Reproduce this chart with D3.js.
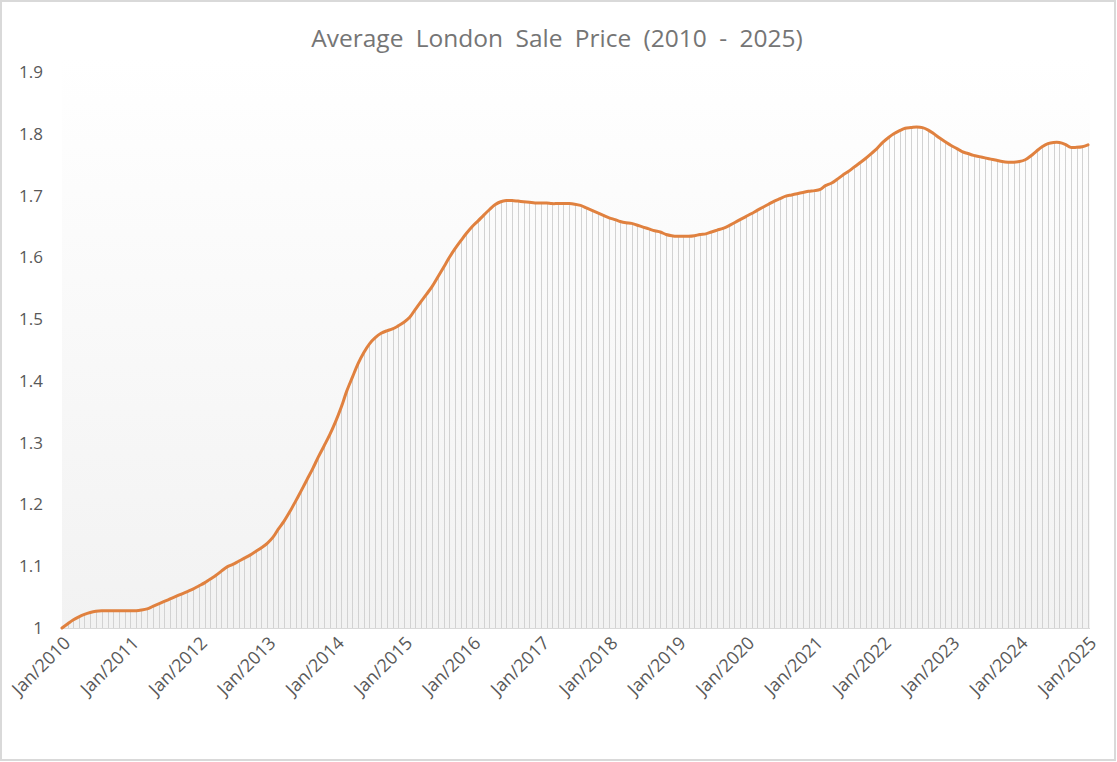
<!DOCTYPE html>
<html>
<head>
<meta charset="utf-8">
<script src="https://cdn.jsdelivr.net/npm/d3@7"></script>
<style>
  body { margin: 0; background: #fff; }
  svg { display: block; }
</style>
</head>
<body>
<svg id="chart" width="1117" height="762"></svg>
<script>

//////////////////////////////  data  //////
// monthly index, Jan 2010 = 1
var startYear = 2010;
var endYear = 2025;

var values_2010 = [1.000, 1.007, 1.013, 1.018, 1.022, 1.025, 1.027, 1.028, 1.028, 1.028, 1.028, 1.028];
var values_2011 = [1.028, 1.028, 1.029, 1.031, 1.035, 1.039, 1.043, 1.047, 1.051, 1.055, 1.059, 1.063];
var values_2012 = [1.068, 1.073, 1.079, 1.085, 1.092, 1.099, 1.103, 1.108, 1.113, 1.118, 1.124, 1.130];
var values_2013 = [1.137, 1.147, 1.160, 1.173, 1.188, 1.205, 1.222, 1.240, 1.258, 1.277, 1.295, 1.313];
var values_2014 = [1.334, 1.358, 1.383, 1.406, 1.428, 1.446, 1.460, 1.470, 1.477, 1.481, 1.484, 1.489];
var values_2015 = [1.495, 1.503, 1.515, 1.528, 1.540, 1.553, 1.568, 1.584, 1.600, 1.614, 1.627, 1.639];
var values_2016 = [1.650, 1.659, 1.668, 1.677, 1.685, 1.690, 1.692, 1.692, 1.691, 1.690, 1.689, 1.688];
var values_2017 = [1.688, 1.688, 1.687, 1.687, 1.687, 1.687, 1.686, 1.684, 1.680, 1.676, 1.672, 1.668];
var values_2018 = [1.664, 1.661, 1.658, 1.656, 1.655, 1.652, 1.649, 1.646, 1.643, 1.641, 1.637, 1.635];
var values_2019 = [1.634, 1.634, 1.634, 1.635, 1.637, 1.638, 1.641, 1.644, 1.647, 1.651, 1.656, 1.661];
var values_2020 = [1.666, 1.671, 1.676, 1.681, 1.686, 1.691, 1.695, 1.699, 1.701, 1.703, 1.705, 1.707];
var values_2021 = [1.708, 1.710, 1.716, 1.720, 1.726, 1.733, 1.739, 1.746, 1.753, 1.760, 1.768, 1.776];
var values_2022 = [1.786, 1.794, 1.800, 1.805, 1.809, 1.810, 1.811, 1.810, 1.806, 1.800, 1.793, 1.787];
var values_2023 = [1.781, 1.776, 1.771, 1.768, 1.765, 1.763, 1.761, 1.759, 1.757, 1.755, 1.754, 1.754];
var values_2024 = [1.755, 1.758, 1.764, 1.772, 1.779, 1.784, 1.786, 1.786, 1.783, 1.778, 1.778, 1.779];
var values_2025 = [1.782];

var yTicks = [1, 1.1, 1.2, 1.3, 1.4, 1.5, 1.6, 1.7, 1.8, 1.9];
var xTickYears = d3.range(startYear, endYear + 1);

var chartTitle = "Average London Sale Price (2010 - 2025)";


var allValues = [].concat(values_2010, values_2011, values_2012, values_2013, values_2014,
  values_2015, values_2016, values_2017, values_2018, values_2019, values_2020,
  values_2021, values_2022, values_2023, values_2024, values_2025);

var data = allValues.map(function(v, i) {
  return { date: new Date(startYear, i, 1), value: v };
});


//////////////////////////////  chart  //////

var chart_vars = {
  'padding_left': 62,
  'padding_top': 72,
  'width': 1026,
  'height': 556,
  'line_color': '#e0813f',
  'text_color': '#595959'
};

var svg = d3.select("svg#chart");

// outer frame
svg.append("rect")
  .attr("x", 1).attr("y", 1)
  .attr("width", 1114).attr("height", 759)
  .attr("fill", "#fff")
  .attr("stroke", "#d9d9d9")
  .attr("stroke-width", 2);

var defs = svg.append("defs");
var grad = defs.append("linearGradient")
  .attr("id", "plotGrad")
  .attr("x1", 0).attr("y1", 0).attr("x2", 0).attr("y2", 1);
grad.append("stop").attr("offset", "0%").attr("stop-color", "#ffffff");
grad.append("stop").attr("offset", "100%").attr("stop-color", "#f2f2f2");

var g = svg.append("g")
  .attr("transform", "translate(" + chart_vars.padding_left + "," + chart_vars.padding_top + ")");

var xScale = d3.scaleTime()
  .domain([new Date(startYear, 0, 1), new Date(endYear, 0, 1)])
  .range([0, chart_vars.width]);

var yScale = d3.scaleLinear()
  .domain([1, 1.9])
  .range([chart_vars.height, 0]);

// plot area background
g.append("rect")
  .attr("x", 0)
  .attr("y", -14)
  .attr("width", chart_vars.width + 2)
  .attr("height", chart_vars.height + 14)
  .attr("fill", "url(#plotGrad)");

// drop lines
g.append("g").attr("class", "droplines")
  .selectAll("line")
  .data(data)
  .enter()
  .append("line")
  .attr("x1", function(d) { return Math.round(xScale(d.date)) + 0.5; })
  .attr("x2", function(d) { return Math.round(xScale(d.date)) + 0.5; })
  .attr("y1", function(d) { return yScale(d.value); })
  .attr("y2", yScale(1))
  .attr("stroke", "#d2d2d2")
  .attr("stroke-width", 1);

// baseline
g.append("line")
  .attr("x1", 0).attr("x2", chart_vars.width + 2)
  .attr("y1", yScale(1) + 0.5).attr("y2", yScale(1) + 0.5)
  .attr("stroke", "#d9d9d9")
  .attr("stroke-width", 1);

var line = d3.line()
  .x(function(d) { return xScale(d.date); })
  .y(function(d) { return yScale(d.value); })
  .curve(d3.curveCatmullRom.alpha(0.5));

g.append("path")
  .datum(data)
  .attr("d", line)
  .attr("fill", "none")
  .attr("stroke", chart_vars.line_color)
  .attr("stroke-width", 3)
  .attr("stroke-linejoin", "round")
  .attr("stroke-linecap", "round");

// y axis
var axis_left = d3.axisLeft(yScale)
  .tickValues(yTicks)
  .tickSize(0)
  .tickPadding(19)
  .tickFormat(function(d) { return d3.format("")(+d.toFixed(1)); });

var gy = g.append("g")
  .attr("class", "axis axis--y")
  .call(axis_left);
gy.select("path").remove();
gy.selectAll("text")
  .style("font-family", "'Open Sans', sans-serif")
  .style("font-size", "17px")
  .style("fill", chart_vars.text_color);

// x axis
var axis_bottom = d3.axisBottom(xScale)
  .tickValues(xTickYears.map(function(y) { return new Date(y, 0, 1); }))
  .tickSize(0)
  .tickFormat(d3.timeFormat("Jan/%Y"));

var gx = g.append("g")
  .attr("class", "axis axis--x")
  .attr("transform", "translate(0," + chart_vars.height + ")")
  .call(axis_bottom);
gx.select("path").remove();
gx.selectAll("text")
  .style("text-anchor", "end")
  .style("font-family", "'Open Sans', sans-serif")
  .style("font-size", "18px")
  .style("fill", chart_vars.text_color)
  .attr("dx", "0")
  .attr("dy", "0")
  .attr("transform", "translate(7,14) rotate(-45)");

// title
svg.append("text")
  .attr("x", 557)
  .attr("y", 47)
  .attr("text-anchor", "middle")
  .style("font-family", "'Open Sans', sans-serif")
  .style("font-size", "24.5px")
  .style("word-spacing", "6px")
  .style("fill", "#757575")
  .text(chartTitle);

</script>
</body>
</html>
